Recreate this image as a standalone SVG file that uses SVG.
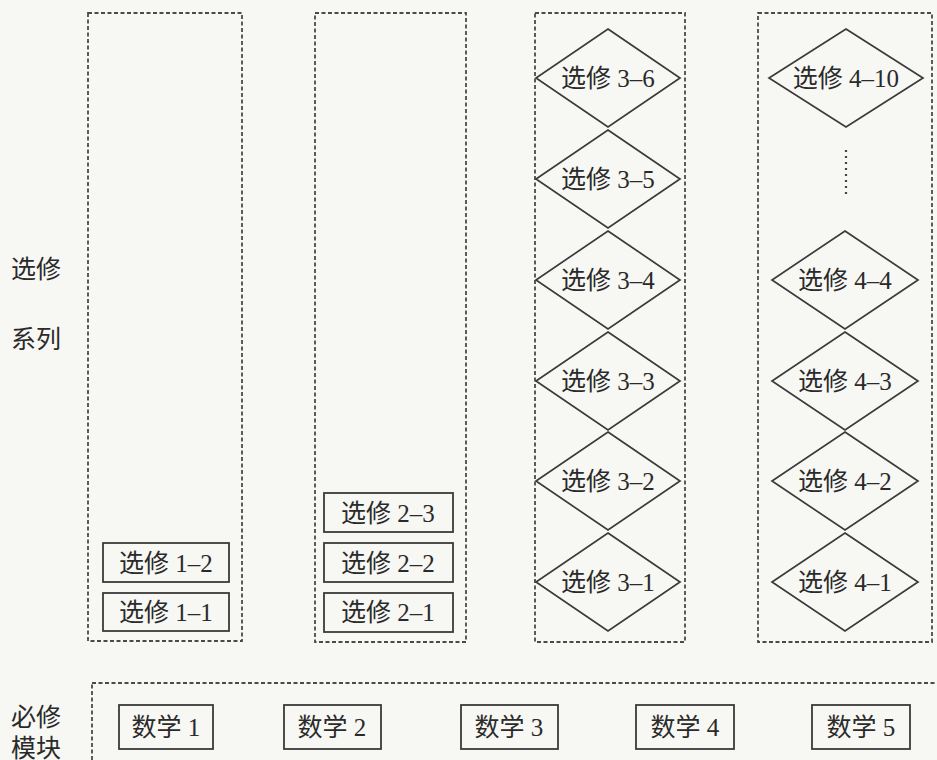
<svg xmlns="http://www.w3.org/2000/svg" width="937" height="760" viewBox="0 0 937 760">
<style>
.bg{fill:#f7f7f4}
.dash{fill:none;stroke:#4a4a4a;stroke-width:1.8;stroke-dasharray:4 2.5}
.box{fill:none;stroke:#3a3a3a;stroke-width:1.8}
.dia{fill:none;stroke:#3a3a3a;stroke-width:1.7}
text{font-family:"Liberation Serif","Noto Sans CJK SC",serif;font-size:25px;fill:#2a2a2a;text-anchor:middle;dominant-baseline:central}
.lbl{text-anchor:start}
</style>
<rect class="bg" x="0" y="0" width="937" height="760"/>
<g id="labels">
<text class="lbl" x="11" y="269">选修</text>
<text class="lbl" x="11" y="339">系列</text>
<text class="lbl" x="11" y="717">必修</text>
<text class="lbl" x="11" y="748">模块</text>
</g>
<g id="groups">
<rect id="col1" class="dash" x="88" y="13" width="154" height="628"/>
<rect id="col2" class="dash" x="315" y="13" width="151" height="629"/>
<rect id="col3" class="dash" x="535" y="13" width="150" height="629"/>
<rect id="col4" class="dash" x="758" y="13" width="174" height="629"/>
<rect id="required" class="dash" x="92" y="683" width="900" height="120"/>
</g>
<g id="connectors">
<line x1="846" y1="150" x2="846" y2="194" stroke="#444" stroke-width="2.2" stroke-dasharray="2 4"/>
</g>
<g id="n-1-2"><rect class="box" x="103" y="543" width="126" height="39"/><text x="166" y="563">选修 1–2</text></g>
<g id="n-1-1"><rect class="box" x="103" y="593" width="126" height="38"/><text x="166" y="612">选修 1–1</text></g>
<g id="n-2-3"><rect class="box" x="324" y="493" width="129" height="39"/><text x="388" y="513">选修 2–3</text></g>
<g id="n-2-2"><rect class="box" x="324" y="543" width="129" height="39"/><text x="388" y="563">选修 2–2</text></g>
<g id="n-2-1"><rect class="box" x="324" y="593" width="129" height="39"/><text x="388" y="612">选修 2–1</text></g>
<g id="n-3-6"><polygon class="dia" points="608,29 680,78 608,127 536,78"/><text x="608" y="78">选修 3–6</text></g>
<g id="n-3-5"><polygon class="dia" points="608,130 680,179 608,228 536,179"/><text x="608" y="179">选修 3–5</text></g>
<g id="n-3-4"><polygon class="dia" points="608,231 680,280 608,329 536,280"/><text x="608" y="280">选修 3–4</text></g>
<g id="n-3-3"><polygon class="dia" points="608,332 680,381 608,430 536,381"/><text x="608" y="381">选修 3–3</text></g>
<g id="n-3-2"><polygon class="dia" points="608,432 680,481 608,530 536,481"/><text x="608" y="481">选修 3–2</text></g>
<g id="n-3-1"><polygon class="dia" points="608,533 680,582 608,631 536,582"/><text x="608" y="582">选修 3–1</text></g>
<g id="n-4-10"><polygon class="dia" points="846,29 923,78 846,127 769,78"/><text x="846" y="78">选修 4–10</text></g>
<g id="n-4-4"><polygon class="dia" points="845,231 918,280 845,329 772,280"/><text x="845" y="280">选修 4–4</text></g>
<g id="n-4-3"><polygon class="dia" points="845,332 918,381 845,430 772,381"/><text x="845" y="381">选修 4–3</text></g>
<g id="n-4-2"><polygon class="dia" points="845,432 918,481 845,530 772,481"/><text x="845" y="481">选修 4–2</text></g>
<g id="n-4-1"><polygon class="dia" points="845,533 918,582 845,631 772,582"/><text x="845" y="582">选修 4–1</text></g>
<g id="m1"><rect class="box" x="119" y="705" width="94" height="44"/><text x="166" y="727">数学 1</text></g>
<g id="m2"><rect class="box" x="284" y="705" width="97" height="44"/><text x="332" y="727">数学 2</text></g>
<g id="m3"><rect class="box" x="461" y="705" width="97" height="44"/><text x="509" y="727">数学 3</text></g>
<g id="m4"><rect class="box" x="636" y="705" width="98" height="44"/><text x="685" y="727">数学 4</text></g>
<g id="m5"><rect class="box" x="812" y="705" width="98" height="44"/><text x="861" y="727">数学 5</text></g>
</svg>
